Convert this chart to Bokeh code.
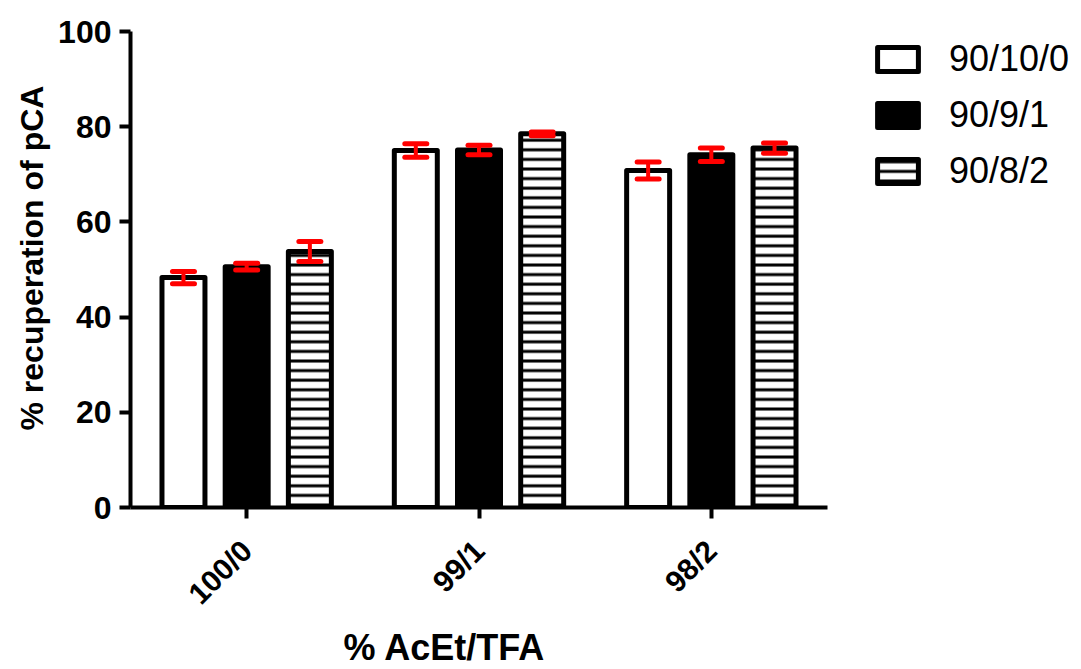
import math
from bokeh.plotting import figure
from bokeh.models import (ColumnDataSource, FactorRange, Whisker, TeeHead, Legend,
                          LegendItem, Title, FixedTicker)
from bokeh.transform import dodge
from bokeh.embed import file_html
from bokeh.resources import INLINE

# ---- data ----
categories = ["100/0", "99/1", "98/2"]
series_names = ["90/10/0", "90/9/1", "90/8/2"]
mean_90_10_0 = [48.3, 75.0, 70.8]
err_90_10_0 = [1.3, 1.4, 1.8]
mean_90_9_1 = [50.6, 75.1, 74.1]
err_90_9_1 = [0.7, 1.0, 1.4]
mean_90_8_2 = [53.8, 78.5, 75.5]
err_90_8_2 = [2.1, 0.4, 1.1]
y_ticks = [0, 20, 40, 60, 80, 100]

FONT = "Liberation Sans"

p = figure(x_range=FactorRange(*categories, range_padding=0, factor_padding=0),
           y_range=(0, 100), width=1081, height=669,
           output_backend="svg", toolbar_location=None,
           min_border_left=130, min_border_right=254, min_border_top=31,
           min_border_bottom=162)
p.frame_width = 697
p.frame_height = 476
p.outline_line_color = None
p.xgrid.grid_line_color = None
p.ygrid.grid_line_color = None
p.background_fill_color = "white"

means = [mean_90_10_0, mean_90_9_1, mean_90_8_2]
errs = [err_90_10_0, err_90_9_1, err_90_8_2]
offsets = [-0.272, 0.0, 0.272]
styles = [dict(fill_color="white"), dict(fill_color="black"),
          dict(fill_color="white", hatch_pattern="horizontal_line",
               hatch_color="black", hatch_scale=9.6, hatch_weight=3)]

renderers = []
for m, e, off, st in zip(means, errs, offsets, styles):
    src = ColumnDataSource(dict(cat=categories, val=m,
                                up=[a + b for a, b in zip(m, e)],
                                lo=[a - b for a, b in zip(m, e)]))
    r = p.vbar(x=dodge("cat", off, range=p.x_range), top="val", bottom=0,
               width=0.185, source=src, line_color="black", line_width=5,
               line_join="round", **st)
    renderers.append(r)
    w = Whisker(base=dodge("cat", off, range=p.x_range), upper="up", lower="lo",
                source=src, line_color="red", line_width=4, level="annotation",
                upper_head=TeeHead(size=22, line_color="red", line_width=5, line_cap="round"),
                lower_head=TeeHead(size=22, line_color="red", line_width=5, line_cap="round"))
    p.add_layout(w)

# axes
for ax in (p.xaxis[0], p.yaxis[0]):
    ax.axis_line_width = 4
    ax.major_tick_line_width = 4
    ax.major_tick_out = 11
    ax.major_tick_in = 0
    ax.minor_tick_line_color = None
    ax.major_label_text_font = FONT
    ax.major_label_text_font_style = "bold"
    ax.major_label_text_color = "black"
    ax.axis_line_color = "black"
    ax.major_tick_line_color = "black"

p.yaxis.ticker = FixedTicker(ticks=y_ticks)
p.yaxis.major_label_text_font_size = "32px"
p.yaxis.major_label_standoff = 8

ytitle = Title(text="% recuperation of pCA", text_font=FONT, text_font_style="bold",
               text_font_size="32px", align="left", offset=77,
               text_color="black", standoff=12)
p.add_layout(ytitle, "left")

p.xaxis.major_label_orientation = math.pi / 4
p.xaxis.major_label_text_font_size = "30px"
p.xaxis.major_label_standoff = 27

xtitle = Title(text="% AcEt/TFA", text_font=FONT, text_font_style="bold",
               text_font_size="36px", align="left", offset=213,
               text_color="black", standoff=0)
p.add_layout(xtitle, "below")

legend = Legend(items=[LegendItem(label=n, renderers=[r]) for n, r in zip(series_names, renderers)],
                location=(45, 315), orientation="vertical",
                glyph_width=51, glyph_height=30, label_standoff=26,
                label_text_font=FONT, label_text_font_size="36px",
                label_text_color="black",
                spacing=14, padding=0, margin=0,
                border_line_color=None, background_fill_alpha=0)
p.add_layout(legend, "right")

open("out.html", "w").write(file_html(p, INLINE))
